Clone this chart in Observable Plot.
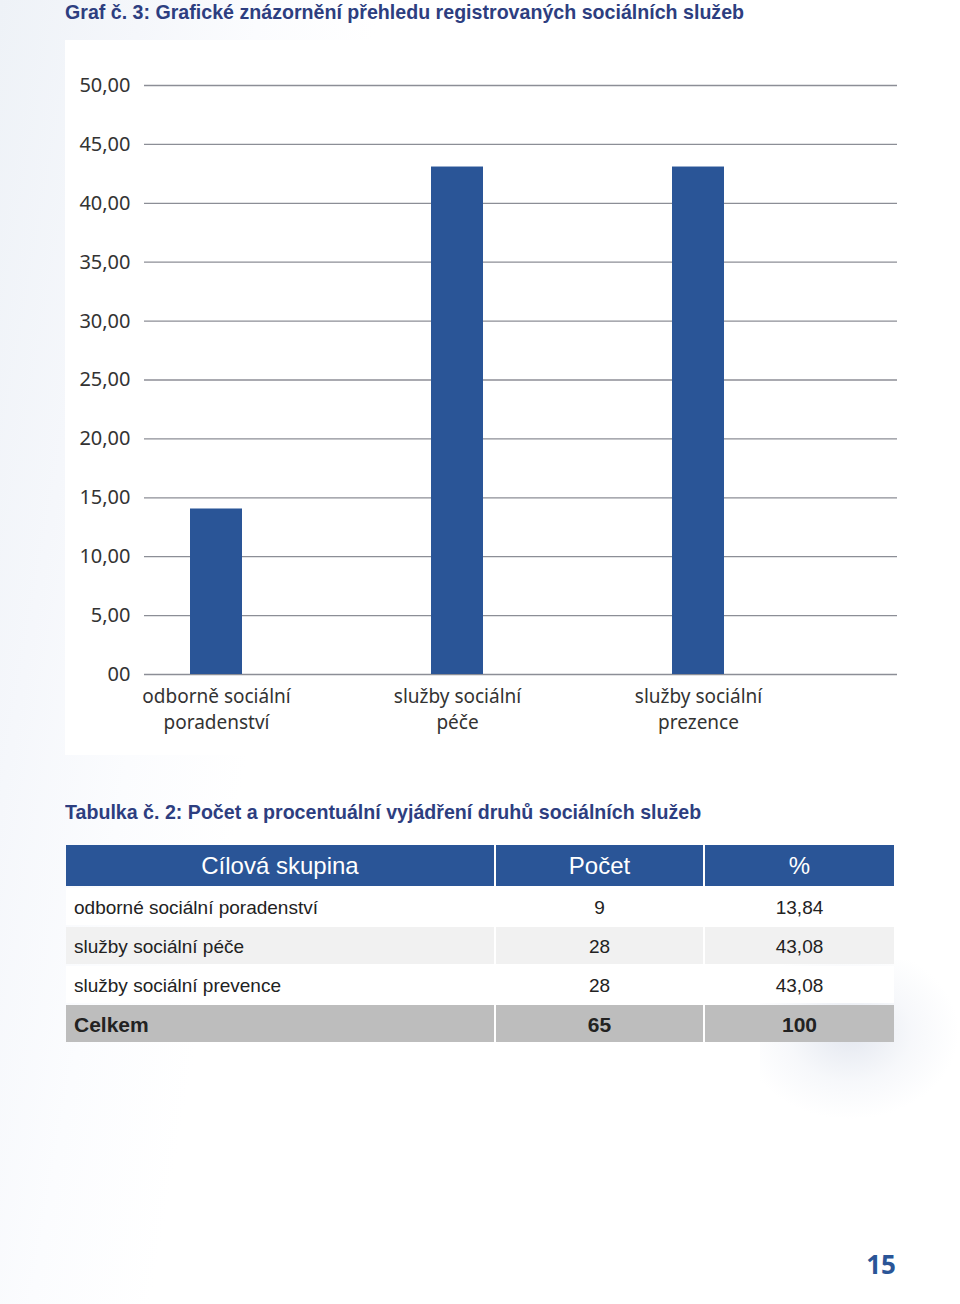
<!DOCTYPE html>
<html>
<head>
<meta charset="utf-8">
<script src="https://cdn.jsdelivr.net/npm/d3@7"></script>
<script src="https://cdn.jsdelivr.net/npm/@observablehq/plot@0.6"></script>
<style>
  html, body { margin: 0; padding: 0; }
  body {
    width: 960px; height: 1304px; position: relative; overflow: hidden;
    background: linear-gradient(100deg, #eef2f7 0%, #f5f7fb 12%, #fbfcfe 22%, #ffffff 32%, #ffffff 100%);
    font-family: "Noto Sans", sans-serif;
  }
  .heading {
    position: absolute; left: 65px;
    font-family: "Liberation Sans", sans-serif;
    font-weight: bold; font-size: 21px; line-height: 24px; color: #2d3e80;
    white-space: nowrap; transform: scaleX(0.934); transform-origin: 0 0;
  }
  #shadow {
    position: absolute; left: 760px; top: 960px; width: 200px; height: 160px;
    background: radial-gradient(ellipse at 45% 45%, rgba(200,208,224,0.5) 0%, rgba(225,230,240,0.28) 40%, rgba(255,255,255,0) 70%);
  }
  #chartbox { position: absolute; left: 65px; top: 40px; width: 835px; height: 715px; background: #fff; }
  #chart { position: absolute; left: 0; top: 40px; }
  table {
    position: absolute; left: 64px; top: 843px; width: 832px;
    border-collapse: separate; border-spacing: 2px; table-layout: fixed;
    font-family: "Liberation Sans", sans-serif;
    font-size: 19px; color: #222;
  }
  th {
    background: #2a5597; color: #fff; font-weight: normal; font-size: 24px;
    height: 41px; padding: 0; text-align: center;
  }
  td { height: 37px; padding: 2px 8px 0 8px; box-sizing: border-box; }
  td.num { text-align: center; padding: 2px 0 0 0; }
  tr.r0 td { background: #ffffff; }
  tr.r1 td { background: #f1f1f1; }
  tr.r2 td { background: #ffffff; }
  tr.total td { background: #bdbdbd; font-weight: bold; font-size: 21px; }
  #page {
    position: absolute; right: 64px; top: 1246px;
    font-family: "Noto Sans", sans-serif; font-weight: bold; font-size: 26px; color: #2a5597;
  }
</style>
</head>
<body>
<div id="shadow"></div>
<div class="heading" style="top:0px">Graf č. 3: Grafické znázornění přehledu registrovaných sociálních služeb</div>
<div id="chartbox"></div>
<div id="chart"></div>
<div class="heading" style="top:800px">Tabulka č. 2: Počet a procentuální vyjádření druhů sociálních služeb</div>
<div id="tablewrap"></div>
<div id="page">15</div>
<script>
// Chart data
const categories = ["odborně sociální poradenství", "služby sociální péče", "služby sociální prezence"];
const labelLine1 = ["odborně sociální", "služby sociální", "služby sociální"];
const labelLine2 = ["poradenství", "péče", "prezence"];
const values = [14.05, 43.08, 43.08];
const yTicks = [0, 5, 10, 15, 20, 25, 30, 35, 40, 45, 50];

// Table data
const tableHeaders = ["Cílová skupina", "Počet", "%"];
const groups = ["odborné sociální poradenství", "služby sociální péče", "služby sociální prevence"];
const counts = ["9", "28", "28"];
const percents = ["13,84", "43,08", "43,08"];
const totalRow = ["Celkem", "65", "100"];

const data = categories.map((c, i) => ({cat: c, value: values[i]}));
const fmt = d => d === 0 ? "00" : d.toFixed(2).replace(".", ",");
const line1 = d => labelLine1[categories.indexOf(d)];
const line2 = d => labelLine2[categories.indexOf(d)];

const chart = Plot.plot({
  width: 960,
  height: 720,
  marginLeft: 144,
  marginRight: 63,
  marginTop: 45,
  marginBottom: 86,
  style: {fontFamily: "Noto Sans, sans-serif", fontSize: "20px", color: "#333", background: "transparent"},
  x: {domain: categories, paddingInner: 0.785, paddingOuter: 0.4483, align: 0.212, label: null},
  y: {domain: [0, 50], label: null},
  marks: [
    Plot.gridY(yTicks, {stroke: "#8c8e96", strokeOpacity: 1, strokeWidth: 1.3}),
    Plot.barY(data, {x: "cat", y: "value", fill: "#2a5597"}),
    Plot.axisY(yTicks, {tickSize: 0, tickPadding: 14, tickFormat: fmt, fill: "#333", fontSize: 20}),
    Plot.axisX({tickSize: 0, tickPadding: 15, tickFormat: line1, fill: "#333", fontSize: 19}),
    Plot.axisX({tickSize: 0, tickPadding: 41, tickFormat: line2, fill: "#333", fontSize: 19})
  ]
});
document.getElementById("chart").appendChild(chart);

// Table
const table = document.createElement("table");
const colgroup = document.createElement("colgroup");
[428, 207, 189].forEach(w => { const c = document.createElement("col"); c.style.width = w + "px"; colgroup.appendChild(c); });
table.appendChild(colgroup);
const thead = document.createElement("tr");
tableHeaders.forEach(h => { const th = document.createElement("th"); th.textContent = h; thead.appendChild(th); });
table.appendChild(thead);
groups.forEach((g, i) => {
  const tr = document.createElement("tr");
  tr.className = "r" + i;
  [g, counts[i], percents[i]].forEach((v, j) => {
    const td = document.createElement("td");
    td.textContent = v;
    if (j > 0) td.className = "num";
    tr.appendChild(td);
  });
  table.appendChild(tr);
});
const tt = document.createElement("tr");
tt.className = "total";
totalRow.forEach((v, j) => {
  const td = document.createElement("td");
  td.textContent = v;
  if (j > 0) td.className = "num";
  tt.appendChild(td);
});
table.appendChild(tt);
document.getElementById("tablewrap").appendChild(table);
</script>
</body>
</html>
